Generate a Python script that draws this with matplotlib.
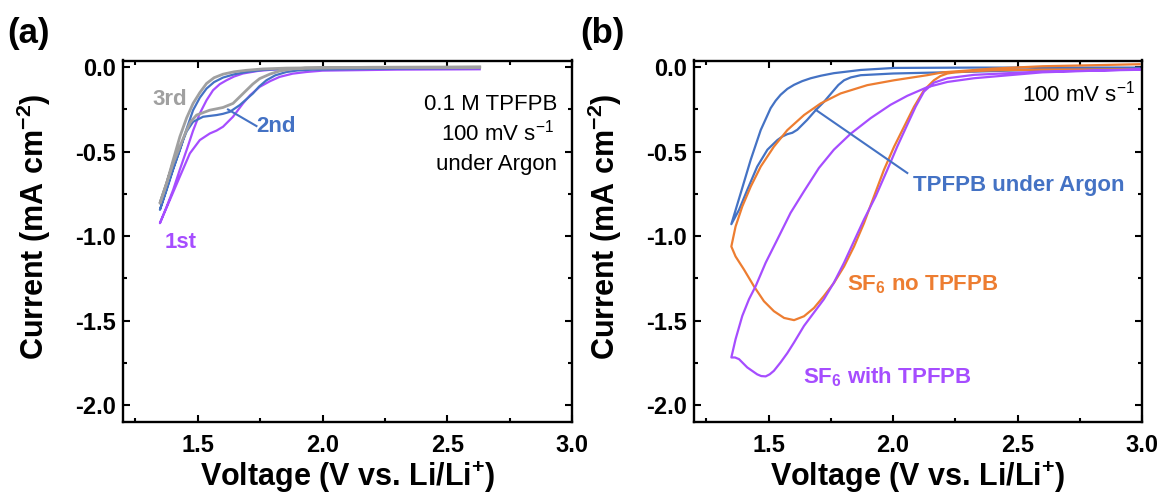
import matplotlib
matplotlib.use('Agg')
import matplotlib.pyplot as plt
import numpy as np
from matplotlib.ticker import MultipleLocator, FormatStrFormatter

plt.rcParams['font.family'] = ['Liberation Sans', 'DejaVu Sans']
plt.rcParams['mathtext.fontset'] = 'custom'
plt.rcParams['mathtext.rm'] = 'Liberation Sans'
plt.rcParams['mathtext.bf'] = 'Liberation Sans:bold'
plt.rcParams['mathtext.it'] = 'Liberation Sans:italic'
plt.rcParams['axes.unicode_minus'] = False

# ---------------- Panel (a) data: CV cycles of 0.1 M TPFPB under Argon ----------------
# cathodic sweep (high V -> low V) then return sweep (low V -> high V)
a1_cat_v = [2.63, 2.30, 2.00, 1.935, 1.88, 1.828, 1.79, 1.748, 1.71, 1.681, 1.641, 1.601, 1.575, 1.548, 1.508, 1.468, 1.428, 1.388, 1.348]
a1_cat_i = [-0.012, -0.014, -0.020, -0.028, -0.038, -0.057, -0.082, -0.116, -0.165, -0.214, -0.293, -0.352, -0.375, -0.392, -0.431, -0.510, -0.647, -0.785, -0.923]
a1_ret_v = [1.348, 1.375, 1.401, 1.428, 1.455, 1.481, 1.508, 1.535, 1.561, 1.588, 1.615, 1.645, 1.681, 1.74, 1.801, 2.04, 2.63]
a1_ret_i = [-0.923, -0.825, -0.726, -0.605, -0.490, -0.375, -0.273, -0.195, -0.136, -0.100, -0.077, -0.055, -0.037, -0.022, -0.014, -0.006, -0.003]

a2_cat_v = [2.63, 2.30, 1.961, 1.90, 1.855, 1.81, 1.775, 1.745, 1.721, 1.668, 1.628, 1.60, 1.575, 1.521, 1.481, 1.455, 1.441, 1.395, 1.348]
a2_cat_i = [-0.005, -0.008, -0.014, -0.019, -0.028, -0.048, -0.077, -0.115, -0.155, -0.224, -0.264, -0.276, -0.283, -0.293, -0.323, -0.380, -0.431, -0.627, -0.844]
a2_ret_v = [1.348, 1.375, 1.401, 1.428, 1.455, 1.481, 1.508, 1.535, 1.565, 1.601, 1.645, 1.695, 1.76, 1.855, 2.20, 2.63]
a2_ret_i = [-0.844, -0.726, -0.605, -0.490, -0.365, -0.254, -0.180, -0.126, -0.088, -0.061, -0.042, -0.028, -0.016, -0.008, -0.003, -0.002]

a3_cat_v = [2.63, 2.30, 1.93, 1.88, 1.828, 1.79, 1.748, 1.72, 1.695, 1.641, 1.601, 1.575, 1.548, 1.495, 1.470, 1.455, 1.401, 1.348]
a3_cat_i = [0.000, -0.002, -0.005, -0.010, -0.022, -0.040, -0.067, -0.100, -0.136, -0.214, -0.238, -0.246, -0.254, -0.283, -0.325, -0.372, -0.568, -0.805]
a3_ret_v = [1.348, 1.375, 1.401, 1.428, 1.455, 1.481, 1.508, 1.535, 1.565, 1.601, 1.645, 1.695, 1.76, 1.855, 2.20, 2.63]
a3_ret_i = [-0.805, -0.687, -0.550, -0.411, -0.300, -0.214, -0.150, -0.096, -0.062, -0.041, -0.027, -0.018, -0.010, -0.005, 0.000, 0.002]

# ---------------- Panel (b) data ----------------
b_ar_cat_v = [2.99, 2.60, 2.325, 2.00, 1.870, 1.830, 1.803, 1.780, 1.762, 1.722, 1.689, 1.655, 1.615, 1.595, 1.575, 1.555, 1.535, 1.495, 1.454, 1.414, 1.381, 1.350]
b_ar_cat_i = [-0.010, -0.014, -0.026, -0.037, -0.047, -0.060, -0.077, -0.105, -0.136, -0.205, -0.254, -0.311, -0.370, -0.388, -0.396, -0.410, -0.431, -0.488, -0.588, -0.726, -0.844, -0.929]
b_ar_ret_v = [1.350, 1.3875, 1.428, 1.468, 1.508, 1.528, 1.548, 1.575, 1.602, 1.635, 1.669, 1.71, 1.762, 1.870, 2.004, 2.325, 2.99]
b_ar_ret_i = [-0.929, -0.746, -0.547, -0.372, -0.242, -0.198, -0.163, -0.128, -0.104, -0.082, -0.065, -0.050, -0.035, -0.016, -0.004, -0.002, -0.002]

b_sf_cat_v = [2.99, 2.60, 2.40, 2.30, 2.25, 2.218, 2.19, 2.164, 2.124, 2.084, 2.044, 2.004, 1.963, 1.923, 1.883, 1.843, 1.803, 1.762, 1.722, 1.682, 1.642, 1.602, 1.562, 1.521, 1.481, 1.441, 1.401, 1.367, 1.350]
b_sf_cat_i = [-0.012, -0.014, -0.018, -0.025, -0.030, -0.037, -0.052, -0.077, -0.136, -0.234, -0.352, -0.470, -0.608, -0.765, -0.923, -1.061, -1.179, -1.277, -1.354, -1.425, -1.474, -1.497, -1.484, -1.444, -1.385, -1.297, -1.198, -1.120, -1.061]
b_sf_ret_v = [1.350, 1.367, 1.394, 1.428, 1.468, 1.521, 1.575, 1.642, 1.709, 1.789, 1.896, 2.004, 2.137, 2.20, 2.40, 2.60, 2.80, 2.99]
b_sf_ret_i = [-1.061, -0.943, -0.824, -0.706, -0.588, -0.470, -0.372, -0.283, -0.214, -0.155, -0.106, -0.077, -0.047, -0.030, -0.008, 0.006, 0.012, 0.018]

b_sft_cat_v = [2.99, 2.60, 2.325, 2.218, 2.164, 2.124, 2.091, 2.057, 2.017, 1.977, 1.930, 1.883, 1.843, 1.803, 1.762, 1.722, 1.682, 1.642, 1.602, 1.575, 1.548, 1.521, 1.504, 1.488, 1.470, 1.454, 1.414, 1.381, 1.365, 1.350]
b_sft_cat_i = [-0.015, -0.025, -0.045, -0.065, -0.091, -0.144, -0.232, -0.340, -0.468, -0.606, -0.764, -0.901, -1.029, -1.157, -1.275, -1.373, -1.452, -1.531, -1.629, -1.692, -1.747, -1.797, -1.818, -1.830, -1.828, -1.818, -1.777, -1.728, -1.718, -1.718]
b_sft_ret_v = [1.350, 1.367, 1.394, 1.421, 1.448, 1.488, 1.535, 1.588, 1.642, 1.702, 1.762, 1.829, 1.910, 1.990, 2.057, 2.137, 2.218, 2.325, 2.60, 2.99]
b_sft_ret_i = [-1.718, -1.610, -1.472, -1.373, -1.295, -1.157, -1.019, -0.862, -0.734, -0.596, -0.488, -0.394, -0.301, -0.222, -0.169, -0.118, -0.087, -0.065, -0.030, -0.012]

C_PURPLE = '#A64DFF'
C_BLUE = '#4472C4'
C_GRAY = '#A0A0A0'
C_ORANGE = '#ED7D31'

W, H = 1162, 494
fig = plt.figure(figsize=(W / 100, H / 100), dpi=100)
ax1 = fig.add_axes([123 / W, 1 - 422 / H, 449 / W, 361.5 / H])
ax2 = fig.add_axes([694 / W, 1 - 422 / H, 448 / W, 361.5 / H])


def style(ax):
    ax.set_xlim(1.2, 3.0)
    ax.set_ylim(-2.1, 0.04)
    ax.xaxis.set_major_locator(MultipleLocator(0.5))
    ax.xaxis.set_minor_locator(MultipleLocator(0.25))
    ax.yaxis.set_major_locator(MultipleLocator(0.5))
    ax.yaxis.set_minor_locator(MultipleLocator(0.25))
    ax.xaxis.set_major_formatter(FormatStrFormatter('%.1f'))
    ax.yaxis.set_major_formatter(FormatStrFormatter('%.1f'))
    ax.tick_params(which='both', direction='in', top=True, right=True, width=1.5, color='black')
    ax.tick_params(which='major', length=5, labelsize=17)
    ax.tick_params(which='minor', length=3)
    ax.tick_params(axis='x', which='major', pad=9)
    ax.tick_params(axis='y', which='major', pad=5)
    for sp in ax.spines.values():
        sp.set_linewidth(1.7)
    for lbl in ax.get_xticklabels() + ax.get_yticklabels():
        lbl.set_fontweight('bold')
    ax.set_xlabel(r'Voltage (V vs. Li/Li$^{\mathbf{+}}$)', fontsize=22, fontweight='bold')
    ax.set_ylabel(r'Current (mA cm$^{\mathbf{-2}}$)', fontsize=22, fontweight='bold')
    ax.xaxis.set_label_coords(0.5, -0.105)
    ax.yaxis.set_label_coords(-0.157, 0.54)


style(ax1)
style(ax2)

lw = 1.6
# Panel (a)
ax1.plot(a1_cat_v + a1_ret_v, a1_cat_i + a1_ret_i, color=C_PURPLE, lw=lw, solid_joinstyle='round')
ax1.plot(a2_cat_v + a2_ret_v, a2_cat_i + a2_ret_i, color=C_BLUE, lw=lw, solid_joinstyle='round')
ax1.plot(a3_cat_v + a3_ret_v, a3_cat_i + a3_ret_i, color=C_GRAY, lw=lw + 0.4, solid_joinstyle='round')

ax1.text(1.388, -0.224, '3rd', color=C_GRAY, fontsize=16, fontweight='bold', ha='center', va='baseline')
ax1.text(1.736, -0.382, '2nd', color=C_BLUE, fontsize=16, fontweight='bold', ha='left', va='baseline')
ax1.plot([1.621, 1.735], [-0.25, -0.348], color=C_BLUE, lw=1.5)
ax1.text(1.432, -1.07, '1st', color=C_PURPLE, fontsize=16, fontweight='bold', ha='center', va='baseline')
ax1.text(2.94, -0.254, '0.1 M TPFPB', fontsize=16, ha='right', va='baseline')
ax1.text(2.93, -0.431, r'100 mV s$^{\mathrm{-1}}$', fontsize=16, ha='right', va='baseline')
ax1.text(2.94, -0.608, 'under Argon', fontsize=16, ha='right', va='baseline')

# Panel (b)
ax2.plot(b_ar_cat_v + b_ar_ret_v, b_ar_cat_i + b_ar_ret_i, color=C_BLUE, lw=lw, solid_joinstyle='round')
ax2.plot(b_sf_cat_v + b_sf_ret_v, b_sf_cat_i + b_sf_ret_i, color=C_ORANGE, lw=lw, solid_joinstyle='round')
ax2.plot(b_sft_cat_v + b_sft_ret_v, b_sft_cat_i + b_sft_ret_i, color=C_PURPLE, lw=lw, solid_joinstyle='round')

ax2.plot([1.689, 2.057], [-0.252, -0.626], color=C_BLUE, lw=1.5)
ax2.text(2.08, -0.730, 'TPFPB under Argon', color=C_BLUE, fontsize=16, fontweight='bold', ha='left', va='baseline')
ax2.text(1.815, -1.32, r'SF$_{\mathbf{6}}$ no TPFPB', color=C_ORANGE, fontsize=16, fontweight='bold', ha='left', va='baseline')
ax2.text(1.638, -1.873, r'SF$_{\mathbf{6}}$ with TPFPB', color=C_PURPLE, fontsize=16, fontweight='bold', ha='left', va='baseline')
ax2.text(2.972, -0.205, r'100 mV s$^{\mathrm{-1}}$', fontsize=16, ha='right', va='baseline')

fig.text(7 / W, 1 - 43 / H, '(a)', fontsize=25, fontweight='bold', ha='left', va='baseline')
fig.text(580 / W, 1 - 43 / H, '(b)', fontsize=25, fontweight='bold', ha='left', va='baseline')

fig.savefig('out.png', dpi=100)
